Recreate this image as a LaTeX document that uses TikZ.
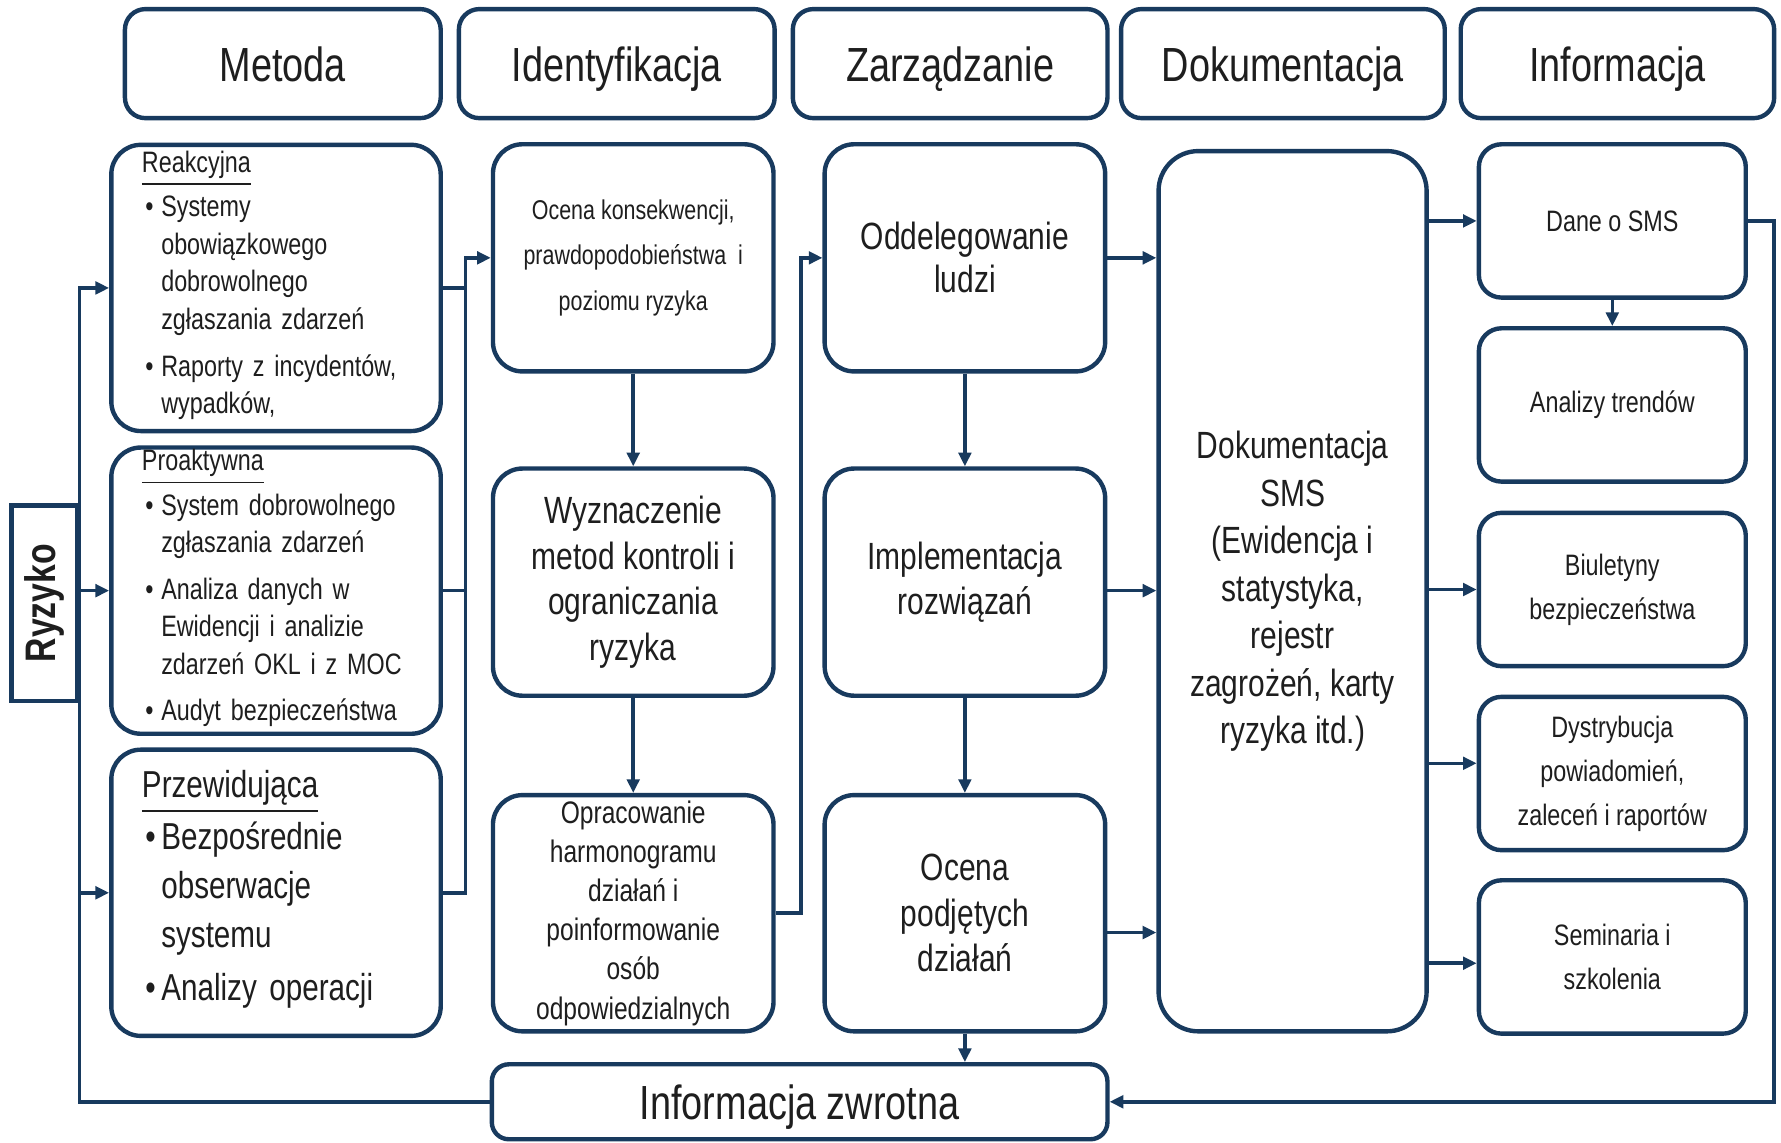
\documentclass[tikz,border=0pt]{standalone}
\usepackage{fontspec}
\setmainfont{Liberation Sans}[FakeStretch=0.79]
\usepackage{graphicx}
\usetikzlibrary{arrows.meta}
\definecolor{linia}{RGB}{24,58,94}
\definecolor{tekst}{RGB}{30,30,30}
\newcommand{\ciasno}{\spaceskip=0.17em plus 0.1em minus 0.02em\relax}
\newcommand{\pkt}[1]{\makebox[1.7mm][l]{\hspace{0.3mm}\textbullet}\begin{tabular}[t]{@{}l@{}}#1\end{tabular}}

\begin{document}
\begin{tikzpicture}
[x=0.1mm,y=-0.1mm,
box/.style={draw=linia,line width=1.1pt,rounded corners=2.6mm,fill=white,
text=tekst,align=center,inner sep=0pt},
head/.style={box,rounded corners=1.8mm,minimum height=9.6mm,text height=8.8pt,text depth=0pt,
font=\fontsize{12}{14}\selectfont},
metbox/.style={box,align=left,text width=23.6mm,minimum width=29mm,minimum height=25.2mm,
font=\setlength\parindent{0pt}\fontsize{7.4}{9.4}\selectfont\ciasno},
krok/.style={box,minimum width=24.7mm,minimum height=20mm,
font=\fontsize{9.5}{11.4}\selectfont},
info/.style={box,rounded corners=2mm,minimum width=23.5mm,minimum height=13.5mm,
font=\fontsize{7.4}{11}\selectfont},
conn/.style={draw=linia,line width=0.9pt},
arr/.style={conn,-{Triangle[length=1.2mm,width=1.1mm]}}]
\fill [white] (0,0) rectangle (1568,1006);
\useasboundingbox (0,0) rectangle (1568,1006);

% naglowki
\node at (249,56) [head,minimum width=27.8mm] (hmet) {Metoda};
\node at (543,56) [head,minimum width=27.8mm] (hide) {Identyfikacja};
\node at (836.5,56) [head,minimum width=27.7mm] (hzar) {Zarządzanie};
\node at (1129.5,56) [head,minimum width=28.5mm] (hdok) {Dokumentacja};
\node at (1424,56) [head,minimum width=27.6mm] (hinf) {Informacja};

\node at (39,531) [draw=linia,line width=1.1pt,minimum width=5.8mm,minimum height=17.2mm,
inner sep=0pt,text=tekst,font=\bfseries\fontsize{10.7}{12}\selectfont] (ryz) {\rotatebox{90}{Ryzyko}};

% metoda
\node at (243,253.5) [metbox] (reak) {\underline{Reakcyjna}\\
\pkt{Systemy\\obowiązkowego\\dobrowolnego\\zgłaszania zdarzeń}\\[1.4pt]
\pkt{Raporty z incydentów,\\wypadków,}};
\node at (243,520) [metbox] (proak) {\underline{Proaktywna}\\
\pkt{System dobrowolnego\\zgłaszania zdarzeń}\\[1.2pt]
\pkt{Analiza danych w\\Ewidencji i analizie\\zdarzeń OKL i z MOC}\\[1.2pt]
\pkt{Audyt bezpieczeństwa}};
\node at (243,786) [metbox,font=\fontsize{9.4}{12.3}\selectfont\ciasno] (przew)
{\underline{Przewidująca}\\[-0.6pt]
\pkt{Bezpośrednie\\obserwacje\\systemu}\\
\pkt{Analizy operacji}};

% identyfikacja
\node at (557.5,227) [krok,font=\fontsize{6.8}{11.4}\selectfont] (ocena)
{Ocena konsekwencji,\\prawdopodobieństwa~ i\\poziomu ryzyka};
\node at (557.5,512.5) [krok] (wyzn) {Wyznaczenie\\metod kontroli i\\ograniczania\\ryzyka};
\node at (557.5,804) [krok,minimum height=20.8mm,font=\fontsize{7.8}{9.8}\selectfont] (oprac)
{Opracowanie\\harmonogramu\\działań i\\poinformowanie\\osób\\odpowiedzialnych};

% zarzadzanie
\node at (849.5,227) [krok,font=\fontsize{9.5}{10.8}\selectfont] (odde) {Oddelegowanie\\ludzi};
\node at (849.5,512.5) [krok] (impl) {Implementacja\\rozwiązań};
\node at (849.5,804) [krok,minimum height=20.8mm] (ocpod) {Ocena\\podjętych\\działań};

% dokumentacja
\node at (1138,520.5) [box,rounded corners=3.5mm,minimum width=23.6mm,minimum height=77.5mm,
font=\fontsize{9.5}{11.9}\selectfont] (dok)
{Dokumentacja\\SMS\\(Ewidencja i\\statystyka,\\rejestr\\zagrożeń, karty\\ryzyka itd.)};

% informacja
\node at (1419.5,194.5) [info] (dane) {Dane o SMS};
\node at (1419.5,356.5) [info] (anal) {Analizy trendów};
\node at (1419.5,519) [info] (biul) {Biuletyny\\bezpieczeństwa};
\node at (1419.5,681) [info] (dystr) {Dystrybucja\\powiadomień,\\zaleceń i raportów};
\node at (1419.5,842.5) [info] (semin) {Seminaria i\\szkolenia};

\node at (704,970) [box,rounded corners=1.5mm,minimum width=54.2mm,minimum height=6.6mm,
text height=8.8pt,text depth=0pt,font=\fontsize{12}{14}\selectfont] (zwr) {Informacja zwrotna};

\coordinate (szyna1) at (410,0);
\coordinate (szyna2) at (705,0);
\coordinate (szyna3) at (1562,0);

% ryzyko i informacja zwrotna
\draw [arr] (ryz.east |- proak.west) -- (proak.west);
\draw [arr] (zwr.west) -| (ryz.east |- reak.west) -- (reak.west);
\draw [arr] (ryz.east |- przew.west) -- (przew.west);
\draw [arr] (dane.east) -| (szyna3 |- zwr.east) -- (zwr.east);

% metoda -> identyfikacja
\draw [conn] (reak.east) -- (reak.east -| szyna1);
\draw [conn] (proak.east) -- (proak.east -| szyna1);
\draw [arr] (przew.east) -| (szyna1 |- ocena.west) -- (ocena.west);
\draw [arr] (ocena) -- (wyzn);
\draw [arr] (wyzn) -- (oprac);
\draw [arr] (oprac.east) -| (szyna2 |- odde.west) -- (odde.west);

% zarzadzanie -> dokumentacja
\draw [arr] (odde) -- (impl);
\draw [arr] (impl) -- (ocpod);
\draw [arr] (ocpod.south) -- (ocpod.south |- zwr.north);
\draw [arr] (odde.east) -- (odde.east -| dok.west);
\draw [arr] ([yshift=-0.75mm]impl.east) -- ([yshift=-0.75mm]impl.east -| dok.west);
\draw [arr] ([yshift=-1.7mm]ocpod.east) -- ([yshift=-1.7mm]ocpod.east -| dok.west);

% dokumentacja -> informacja
\draw [arr] (dane.west -| dok.east) -- (dane.west);
\draw [arr] (biul.west -| dok.east) -- (biul.west);
\draw [arr] ([yshift=0.9mm]dystr.west -| dok.east) -- ([yshift=0.9mm]dystr.west);
\draw [arr] ([yshift=-0.55mm]semin.west -| dok.east) -- ([yshift=-0.55mm]semin.west);
\draw [arr] (dane) -- (anal);
\end{tikzpicture}
\end{document}
